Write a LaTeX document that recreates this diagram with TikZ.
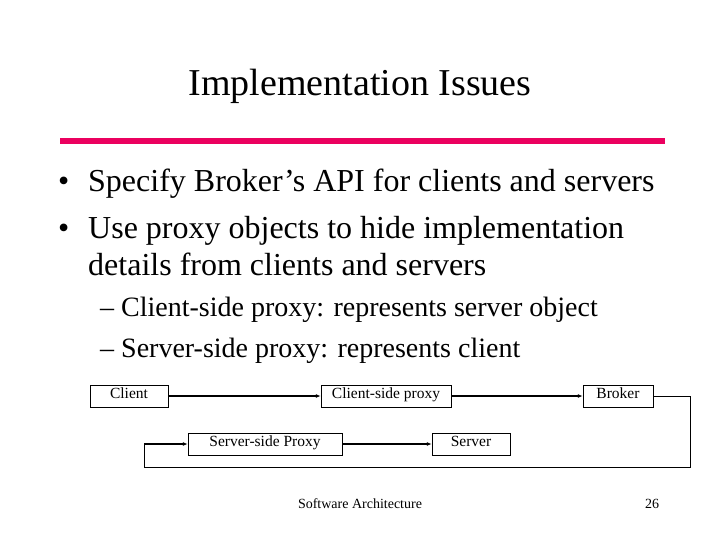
\documentclass[tikz,border=0pt]{standalone}
\usepackage{fontspec}
\setmainfont{Liberation Serif}
\usetikzlibrary{arrows.meta}
\tikzset{>={Latex[width=4pt,length=5pt]}}
\definecolor{rule}{RGB}{235,0,95}
\tikzset{box/.style={draw,minimum height=22pt,inner sep=2pt,text height=9.5pt,text depth=4.5pt,font=\fontsize{15.5}{18}\selectfont},
  txt/.style={anchor=base west,inner sep=0pt}}
\begin{document}
\begin{tikzpicture}[x=1pt,y=-1pt]
  \useasboundingbox (0,0) rectangle (720,540);
  \node[inner sep=0pt] (title) at (360,86) {\fontsize{38}{42}\selectfont Implementation Issues};
  \fill[rule] (60,138) rectangle (665,144);

  \node[txt] (d1) at (58,192) {\fontsize{32}{36}\selectfont \textbullet};
  \node[txt] (b1) at (88,192) {\fontsize{32}{36}\selectfont Specify Broker’s API for clients and servers};
  \node[txt] (d2) at (58,238) {\fontsize{32}{36}\selectfont \textbullet};
  \node[txt] (b2) at (88,238) {\fontsize{32}{36}\selectfont Use proxy objects to hide implementation};
  \node[txt] (b3) at (88,275) {\fontsize{32}{36}\selectfont details from clients and servers};
  \node[txt] (s1) at (100,316) {\fontsize{28}{32}\selectfont – Client-side proxy: represents server object};
  \node[txt] (s2) at (100,357) {\fontsize{28}{32}\selectfont – Server-side proxy: represents client};

  % diagram
  \node[box,minimum width=78pt] (client) at (129,396) {Client};
  \node[box,minimum width=130pt] (cproxy) at (386,396) {Client-side proxy};
  \node[box,minimum width=70pt] (broker) at (618,396) {Broker};
  \node[box,minimum width=154pt] (sproxy) at (265,444) {Server-side Proxy};
  \node[box,minimum width=78pt] (server) at (471,444) {Server};

  \draw[->,line width=1.6pt] (client) -- (cproxy);
  \draw[->,line width=1.6pt] (cproxy) -- (broker);
  \draw[->,line width=1.6pt] (sproxy) -- (server);
  \draw (broker.east) -- ++(37,0) |- (144,467) -- (144,444);
  \draw[->,line width=1.6pt] (144,444) -- (sproxy.west);

  \node (footer) at (360,504) {\fontsize{14}{16}\selectfont Software Architecture};
  \node (page) at (652,504) {\fontsize{14}{16}\selectfont 26};
\end{tikzpicture}
\end{document}
